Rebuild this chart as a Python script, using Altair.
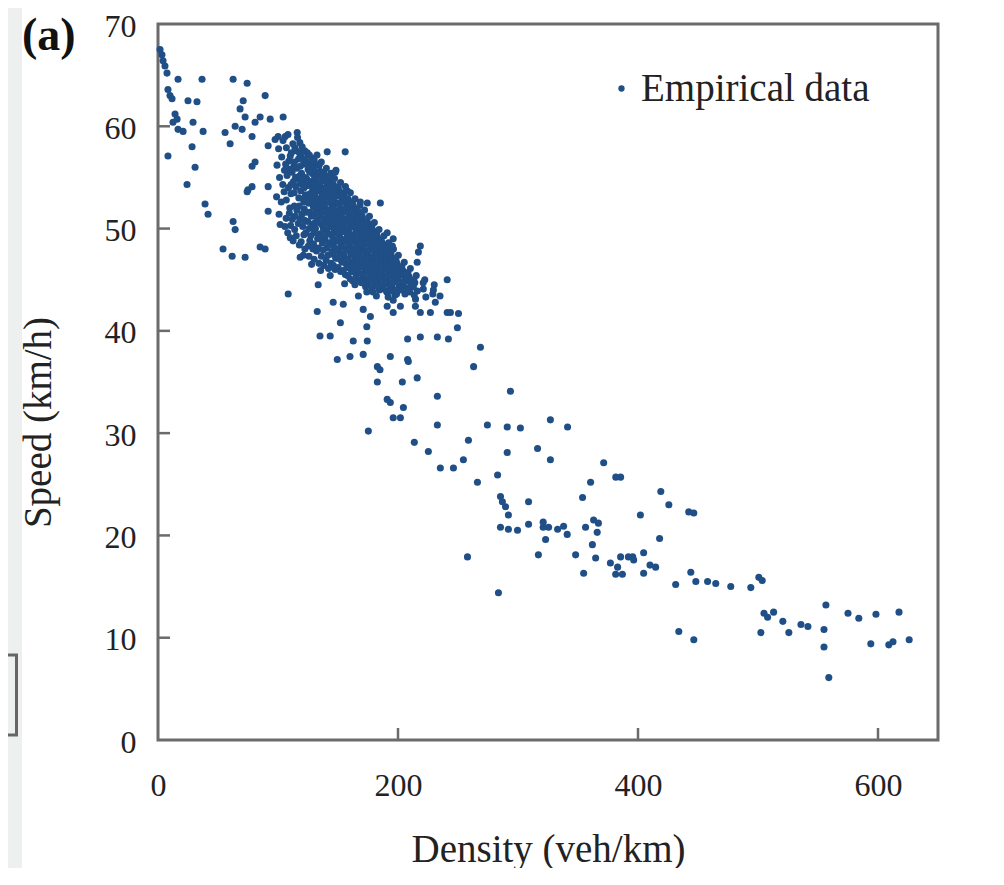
import altair as alt
import pandas as pd

# ---------------- data (density veh/km, speed km/h) ----------------
free_flow_pts = [
    (1.7, 67.5), (3.3, 67.0), (4.2, 66.4), (5.8, 65.9), (7.5, 65.2),
    (16.7, 64.6), (36.7, 64.6), (62.6, 64.6), (74.3, 64.2), (89.3, 63.0),
    (8.3, 63.6), (10.0, 63.0), (11.7, 62.7), (25.0, 62.5), (32.5, 62.4),
    (71.0, 62.5), (68.4, 61.7), (72.6, 60.9), (14.2, 61.2), (15.9, 60.7), (12.5, 60.4),
    (29.2, 60.4), (16.7, 59.7), (20.9, 59.5), (37.6, 59.5), (55.9, 59.4), (60.1, 58.3),
    (64.3, 60.0), (70.1, 59.7), (78.4, 59.0), (80.9, 60.4), (85.1, 60.9), (93.5, 60.7),
    (104.3, 60.9), (100.1, 59.0), (106.0, 59.0), (97.6, 58.7), (116.0, 59.4), (91.8, 58.1),
    (28.4, 58.0), (8.3, 57.1), (30.9, 56.0), (78.4, 56.1), (80.9, 56.5), (24.2, 54.3),
    (75.0, 53.8), (74.3, 53.6), (78.4, 54.1), (91.8, 54.1), (39.2, 52.4), (41.7, 51.4),
    (91.8, 51.7), (62.6, 50.7), (64.3, 49.9), (54.2, 48.0), (61.8, 47.3), (72.6, 47.2),
    (85.1, 48.2), (89.3, 48.0), (110.2, 49.1), (101.8, 50.4), (118.5, 47.2),
]

core_pts = [
    (100.5, 57.8), (99.2, 56.2), (101.3, 55.0), (98.8, 53.1), (100.9, 51.4),
    (104.2, 58.6), (103.1, 57.0), (105.4, 55.7), (104.0, 54.3), (102.7, 52.6), (105.8, 50.2),
    (108.3, 59.2), (107.0, 57.9), (109.1, 56.6), (107.6, 55.2), (108.8, 54.0), (106.9, 52.8), (109.5, 51.5), (108.1, 49.6),
    (112.4, 58.3), (111.1, 57.4), (113.2, 56.1), (111.7, 55.5), (112.9, 54.6), (110.8, 53.4), (113.6, 52.2), (111.9, 50.9), (112.6, 48.8),
    (116.3, 58.9), (115.0, 57.6), (117.1, 56.8), (115.6, 55.9), (116.8, 54.9), (114.9, 54.1), (117.4, 53.0), (115.8, 51.8), (116.9, 50.5), (115.2, 49.3),
    (120.1, 58.0), (119.0, 57.1), (121.3, 56.3), (119.6, 55.4), (120.8, 54.5), (118.9, 53.7), (121.5, 52.6), (119.9, 51.4), (120.6, 50.2), (119.3, 48.7), (121.1, 47.4),
    (124.4, 57.4), (123.2, 56.6), (125.1, 55.8), (123.8, 54.9), (124.9, 54.2), (122.9, 53.3), (125.6, 52.5), (123.5, 51.6), (124.7, 50.7), (123.1, 49.6), (125.3, 48.3),
    (128.2, 56.9), (127.1, 56.0), (129.3, 55.3), (127.7, 54.6), (128.9, 53.8), (126.8, 53.0), (129.5, 52.1), (127.9, 51.2), (128.6, 50.3), (127.3, 49.3), (129.1, 48.0), (128.0, 46.5),
    (132.5, 57.2), (131.0, 56.3), (133.2, 55.5), (131.6, 54.7), (132.8, 54.0), (130.9, 53.2), (133.6, 52.4), (131.8, 51.7), (132.3, 50.8), (131.2, 50.0), (133.0, 49.0), (132.1, 47.8),
    (136.1, 56.5), (135.0, 55.6), (137.2, 54.8), (135.6, 54.1), (136.8, 53.4), (134.9, 52.7), (137.5, 51.9), (135.8, 51.2), (136.4, 50.4), (135.2, 49.5), (137.0, 48.6), (136.2, 47.3), (135.5, 45.9),
    (140.3, 55.9), (139.1, 55.0), (141.2, 54.3), (139.7, 53.5), (140.9, 52.8), (138.8, 52.1), (141.6, 51.4), (139.9, 50.6), (140.5, 49.8), (139.2, 49.0), (141.0, 48.1), (140.1, 46.9),
    (144.2, 55.4), (143.0, 54.6), (145.1, 53.8), (143.6, 53.1), (144.8, 52.3), (142.9, 51.6), (145.5, 50.9), (143.8, 50.2), (144.5, 49.4), (143.2, 48.6), (145.0, 47.7), (144.1, 46.6), (143.5, 45.4),
    (148.3, 55.7), (147.1, 54.9), (149.2, 54.0), (147.7, 53.3), (148.9, 52.5), (146.8, 51.8), (149.6, 51.0), (147.9, 50.3), (148.5, 49.6), (147.2, 48.8), (149.0, 48.0), (148.1, 47.1), (147.6, 46.0),
    (152.1, 54.5), (151.0, 53.6), (153.3, 52.8), (151.6, 52.0), (152.8, 51.3), (150.9, 50.5), (153.5, 49.8), (151.8, 49.1), (152.4, 48.4), (151.2, 47.6), (153.0, 46.8), (152.2, 45.8),
    (156.2, 54.1), (155.0, 53.2), (157.1, 52.4), (155.6, 51.7), (156.8, 50.9), (154.9, 50.2), (157.5, 49.5), (155.8, 48.8), (156.4, 48.0), (155.2, 47.3), (157.0, 46.5), (156.1, 45.5), (155.5, 44.6),
    (160.3, 53.5), (159.1, 52.7), (161.2, 51.9), (159.7, 51.1), (160.9, 50.4), (158.8, 49.7), (161.6, 49.0), (159.9, 48.3), (160.5, 47.6), (159.2, 46.8), (161.0, 46.0), (160.1, 45.1),
    (164.2, 52.9), (163.0, 52.1), (165.1, 51.4), (163.6, 50.6), (164.8, 49.9), (162.9, 49.2), (165.5, 48.5), (163.8, 47.8), (164.5, 47.1), (163.2, 46.3), (165.0, 45.5), (164.1, 44.5),
    (168.3, 52.3), (167.1, 51.5), (169.2, 50.8), (167.7, 50.0), (168.9, 49.3), (166.8, 48.6), (169.6, 47.9), (167.9, 47.2), (168.5, 46.5), (167.2, 45.7), (169.0, 44.8),
    (172.1, 51.8), (171.0, 50.9), (173.3, 50.2), (171.6, 49.5), (172.8, 48.8), (170.9, 48.1), (173.5, 47.4), (171.8, 46.7), (172.4, 46.0), (171.2, 45.2), (173.0, 44.3),
    (176.2, 51.2), (175.0, 50.4), (177.1, 49.6), (175.6, 48.9), (176.8, 48.2), (174.9, 47.5), (177.5, 46.8), (175.8, 46.1), (176.4, 45.4), (175.2, 44.6),
    (180.3, 50.6), (179.1, 49.8), (181.2, 49.0), (179.7, 48.3), (180.9, 47.6), (178.8, 46.9), (181.6, 46.2), (179.9, 45.5), (180.5, 44.7), (179.2, 43.8),
    (184.2, 49.9), (183.0, 49.1), (185.1, 48.4), (183.6, 47.7), (184.8, 47.0), (182.9, 46.3), (185.5, 45.6), (183.8, 44.8), (184.5, 44.0),
    (188.3, 49.3), (187.1, 48.5), (189.2, 47.8), (187.7, 47.1), (188.9, 46.4), (186.8, 45.7), (189.6, 44.9), (187.9, 44.1),
    (192.1, 48.6), (191.0, 47.9), (193.3, 47.2), (191.6, 46.5), (192.8, 45.8), (190.9, 45.0), (193.5, 44.2), (191.8, 43.3),
    (196.2, 48.0), (195.0, 47.2), (197.1, 46.5), (195.6, 45.8), (196.8, 45.1), (194.9, 44.3), (197.5, 43.5),
    (200.3, 47.4), (199.1, 46.6), (201.2, 45.9), (199.7, 45.1), (200.9, 44.4), (198.8, 43.6),
    (205.2, 46.7), (204.0, 45.9), (206.1, 45.2), (204.6, 44.4), (205.8, 43.6),
    (210.3, 46.1), (209.1, 45.3), (211.2, 44.6), (209.7, 43.8),
    (215.2, 45.4), (214.0, 44.7), (216.1, 43.9), (214.6, 43.1),
    (222.3, 45.0), (221.1, 44.1), (223.2, 43.3),
    (230.2, 44.5), (229.0, 43.6), (231.1, 42.8),
]

core_fill_pts = [
    (106.4, 56.3), (105.1, 53.6), (106.8, 51.0),
    (110.2, 57.1), (109.6, 55.8), (110.9, 54.3), (109.8, 52.0), (110.5, 50.3),
    (114.1, 57.9), (113.7, 56.5), (114.6, 55.0), (113.4, 53.5), (114.3, 51.2), (113.9, 49.9),
    (118.2, 58.4), (117.9, 57.4), (118.5, 56.1), (117.6, 55.1), (118.8, 54.4), (117.7, 52.2), (118.4, 50.9), (117.8, 48.4),
    (122.3, 57.6), (121.8, 56.8), (122.5, 55.0), (121.7, 54.0), (122.6, 53.0), (121.9, 51.9), (122.2, 50.8), (121.6, 49.4), (122.4, 48.0),
    (126.1, 57.2), (125.8, 56.3), (126.4, 55.5), (125.9, 54.3), (126.6, 53.4), (125.7, 52.5), (126.3, 51.6), (125.9, 50.0), (126.5, 48.8), (125.8, 47.3),
    (130.2, 56.7), (129.8, 55.9), (130.5, 54.9), (129.7, 54.2), (130.4, 53.5), (129.9, 52.7), (130.6, 51.4), (129.8, 50.5), (130.3, 49.6), (129.6, 48.5), (130.1, 47.0),
    (134.3, 56.2), (133.8, 55.2), (134.5, 54.4), (133.7, 53.7), (134.4, 52.9), (133.9, 52.1), (134.6, 51.5), (133.8, 50.6), (134.2, 49.1), (133.6, 48.1), (134.1, 46.6),
    (138.2, 55.5), (137.8, 54.7), (138.5, 53.9), (137.7, 53.0), (138.4, 52.4), (137.9, 51.6), (138.6, 50.9), (137.8, 50.0), (138.3, 49.3), (137.6, 47.9), (138.1, 46.4),
    (142.3, 55.1), (141.8, 54.0), (142.5, 53.3), (141.7, 52.6), (142.4, 51.8), (141.9, 51.0), (142.6, 50.4), (141.8, 49.5), (142.2, 48.5), (141.6, 47.4), (142.1, 46.1),
    (146.2, 54.3), (145.8, 53.5), (146.5, 52.9), (145.7, 52.1), (146.4, 51.3), (145.9, 50.6), (146.6, 49.9), (145.8, 49.0), (146.3, 48.3), (145.6, 47.5), (146.1, 46.4),
    (150.3, 54.0), (149.8, 53.2), (150.5, 52.4), (149.7, 51.6), (150.4, 50.9), (149.9, 50.0), (150.6, 49.4), (149.8, 48.8), (150.2, 47.9), (149.6, 47.1), (150.1, 46.2),
    (154.2, 53.5), (153.8, 52.6), (154.5, 51.9), (153.7, 51.0), (154.4, 50.6), (153.9, 49.7), (154.6, 48.9), (153.8, 48.2), (154.3, 47.5), (153.6, 46.7), (154.1, 45.9),
    (158.3, 52.9), (157.8, 52.0), (158.5, 51.5), (157.7, 50.7), (158.4, 50.0), (157.9, 49.2), (158.6, 48.6), (157.8, 47.9), (158.2, 47.0), (157.6, 46.2), (158.1, 45.4),
    (162.2, 52.4), (161.8, 51.6), (162.5, 50.9), (161.7, 50.2), (162.4, 49.4), (161.9, 48.8), (162.6, 48.0), (161.8, 47.4), (162.3, 46.6), (161.6, 45.8), (162.1, 44.9),
    (166.3, 51.8), (165.8, 51.0), (166.5, 50.3), (165.7, 49.6), (166.4, 48.9), (165.9, 48.2), (166.6, 47.5), (165.8, 46.8), (166.2, 46.0), (165.6, 45.1),
    (170.2, 51.2), (169.8, 50.5), (170.5, 49.8), (169.7, 49.0), (170.4, 48.4), (169.9, 47.7), (170.6, 47.0), (169.8, 46.3), (170.3, 45.5), (169.6, 44.7),
    (174.3, 50.7), (173.8, 49.9), (174.5, 49.2), (173.7, 48.5), (174.4, 47.8), (173.9, 47.1), (174.6, 46.4), (173.8, 45.8), (174.2, 45.0),
    (178.2, 50.0), (177.8, 49.3), (178.5, 48.6), (177.7, 47.9), (178.4, 47.2), (177.9, 46.5), (178.6, 45.9), (177.8, 45.1), (178.3, 44.2),
    (182.3, 49.4), (181.8, 48.7), (182.5, 48.0), (181.7, 47.3), (182.4, 46.6), (181.9, 45.9), (182.6, 45.2), (181.8, 44.4),
    (186.2, 48.8), (185.8, 48.1), (186.5, 47.4), (185.7, 46.7), (186.4, 46.0), (185.9, 45.3), (186.6, 44.5),
    (190.3, 48.2), (189.8, 47.5), (190.5, 46.8), (189.7, 46.1), (190.4, 45.4), (189.9, 44.6), (190.6, 43.8),
    (194.2, 47.6), (193.8, 46.9), (194.5, 46.2), (193.7, 45.4), (194.4, 44.7), (193.9, 43.9),
    (198.3, 46.9), (197.8, 46.2), (198.5, 45.5), (197.7, 44.8), (198.4, 44.0),
    (203.2, 46.3), (202.8, 45.5), (203.5, 44.8), (202.7, 44.0),
    (208.3, 45.7), (207.8, 44.9), (208.5, 44.2),
    (213.2, 45.0), (212.8, 44.3), (213.5, 43.5),
]

transition_pts = [
    (141.0, 57.5), (156.0, 57.5), (147.7, 55.5), (157.7, 53.7), (168.6, 52.6), (174.4, 52.5),
    (185.3, 52.5), (178.6, 50.4), (191.0, 49.6), (196.0, 49.0), (195.3, 48.3), (218.6, 48.3),
    (217.0, 47.7), (216.0, 46.7), (241.0, 45.0), (221.0, 44.7), (229.5, 44.0), (235.0, 43.4),
    (208.0, 44.0), (196.0, 43.0), (191.0, 42.4), (196.0, 41.8), (202.0, 42.4), (214.5, 42.4),
    (218.6, 41.8), (227.0, 41.8), (241.0, 41.8), (185.0, 45.3), (182.0, 43.4), (174.0, 43.8),
    (167.0, 43.4), (171.0, 42.1), (177.0, 41.4), (152.0, 40.8), (174.0, 40.4), (108.5, 43.6),
    (132.7, 41.9), (146.0, 42.8), (154.4, 42.6), (133.5, 44.5), (135.0, 39.5), (143.5, 39.5),
    (162.7, 39.0), (174.4, 39.0), (208.0, 39.2), (218.6, 39.4), (232.8, 39.4), (242.0, 39.2),
    (149.4, 37.2), (160.0, 37.5), (171.0, 37.7), (193.6, 37.5), (208.0, 37.2), (182.8, 36.5),
    (243.7, 41.8), (250.4, 41.7), (249.5, 40.3), (268.7, 38.4), (208.6, 37.0), (263.0, 36.5),
    (185.0, 36.2), (203.6, 35.0), (216.0, 35.4), (293.7, 34.1), (191.0, 33.3), (193.6, 33.0),
    (232.8, 33.6), (204.5, 32.5), (196.0, 31.5), (202.0, 31.5), (232.8, 30.8), (274.5, 30.8),
    (291.0, 30.6), (302.0, 30.5), (327.0, 31.3), (341.3, 30.6), (182.8, 35.0), (175.3, 30.2),
    (213.6, 29.1), (225.3, 28.2), (258.7, 29.3), (316.3, 28.5), (327.0, 27.4), (291.0, 28.1),
    (235.3, 26.6), (246.2, 26.6), (254.5, 27.4), (283.0, 25.9), (266.2, 25.2),
]

congested_pts = [
    (371.4, 27.1), (385.5, 25.7), (381.5, 25.7), (360.5, 25.2), (353.8, 23.7), (285.4, 23.8),
    (287.0, 23.3), (289.6, 22.8), (308.8, 23.3), (292.0, 22.0), (285.4, 20.8), (292.0, 20.6),
    (299.6, 20.5), (308.8, 21.1), (321.0, 21.3), (321.0, 20.8), (325.5, 20.8), (333.0, 20.6),
    (338.0, 20.9), (341.0, 20.1), (323.0, 19.6), (356.3, 20.8), (363.0, 21.5), (367.0, 21.2),
    (366.0, 20.3), (362.0, 19.1), (402.0, 22.0), (257.9, 17.9), (317.0, 18.1), (348.0, 18.1),
    (354.7, 16.3), (364.7, 17.8), (377.0, 17.3), (383.0, 16.9), (385.5, 17.9), (381.4, 16.2),
    (387.0, 16.2), (392.0, 17.9), (396.4, 17.6), (404.7, 18.3), (404.7, 16.3), (410.0, 17.1),
    (414.7, 16.9), (395.6, 17.9), (283.7, 14.4), (419.0, 24.3), (425.7, 23.0), (442.3, 22.3),
    (446.5, 22.2), (418.0, 19.7), (431.4, 15.2), (444.0, 16.4), (448.2, 15.5), (458.0, 15.5),
    (464.8, 15.3), (477.3, 15.0), (494.0, 14.9), (500.7, 15.9), (503.5, 15.6), (434.0, 10.6),
    (446.5, 9.8), (505.0, 12.4), (508.0, 12.0), (513.0, 12.5), (520.7, 11.6), (535.8, 11.3),
    (541.6, 11.1), (502.4, 10.5), (525.7, 10.5), (556.6, 13.2), (555.0, 10.8), (555.0, 9.1),
    (559.0, 6.1), (575.0, 12.4), (584.0, 11.9), (598.3, 12.3), (617.5, 12.5), (594.0, 9.4),
    (609.0, 9.3), (612.5, 9.6), (626.0, 9.8),
]

x_ticks = [0, 200, 400, 600]
y_ticks = [0, 10, 20, 30, 40, 50, 60, 70]
x_title = "Density (veh/km)"
y_title = "Speed (km/h)"
series_name = "Empirical data"
panel_label = "(a)"

# ---------------- build table ----------------
all_pts = free_flow_pts + core_pts + core_fill_pts + transition_pts + congested_pts
df = pd.DataFrame(all_pts, columns=["density", "speed"])
df["series"] = series_name

W, H = 780, 716
FONT = "Liberation Serif"
DOT = "#1f4f86"
FRAME = "#6b6b6b"

xscale = alt.Scale(domain=[0, 650], nice=False, zero=True)
yscale = alt.Scale(domain=[0, 70], nice=False)

points = alt.Chart(df).mark_circle(size=50, opacity=1).encode(
    x=alt.X("density:Q", scale=xscale,
            axis=alt.Axis(values=x_ticks, title=x_title, titleY=121,
                          titleBaseline="alphabetic", labelPadding=30, labelFlush=False)),
    y=alt.Y("speed:Q", scale=yscale,
            axis=alt.Axis(values=y_ticks, title=y_title, titleX=-108, titleY=398,
                          titleAngle=270, titleAlign="center",
                          titleBaseline="alphabetic", labelPadding=22, labelFlush=False,
                          labelOffset=2)),
    color=alt.Color("series:N", scale=alt.Scale(range=[DOT]),
                    legend=alt.Legend(orient="none", legendX=444, legendY=45, title=None,
                                      symbolType="circle", symbolSize=40,
                                      symbolFillColor=DOT, symbolStrokeWidth=0,
                                      labelFont=FONT, labelFontSize=39, labelColor="#222222",
                                      labelOffset=0, labelLimit=0, padding=0)),
)

# inward tick marks
ytick_df = pd.DataFrame({"v": y_ticks[1:-1]})
xtick_df = pd.DataFrame({"v": x_ticks[1:]})
yticks = alt.Chart(ytick_df).mark_rule(color=FRAME, strokeWidth=2.5).encode(
    y=alt.Y("v:Q", scale=yscale), x=alt.value(0), x2=alt.value(12))
xticks = alt.Chart(xtick_df).mark_rule(color=FRAME, strokeWidth=2.5).encode(
    x=alt.X("v:Q", scale=xscale), y=alt.value(H), y2=alt.value(H - 12))

# panel label
label = alt.Chart(pd.DataFrame({"t": [panel_label]})).mark_text(
    font=FONT, fontSize=46, fontWeight="bold", align="left", baseline="alphabetic",
    color="#111111").encode(x=alt.value(-136), y=alt.value(26), text="t:N")

# page decoration: grey strip on the left and bracket
deco = pd.DataFrame({"k": [0]})
strip = alt.Chart(deco).mark_rect(color="#eef0f0").encode(
    x=alt.value(-150), x2=alt.value(-136), y=alt.value(-16), y2=alt.value(H + 140))
br_top = alt.Chart(deco).mark_rule(color="#666666", strokeWidth=3).encode(
    x=alt.value(-152), x2=alt.value(-140), y=alt.value(631))
br_bot = alt.Chart(deco).mark_rule(color="#666666", strokeWidth=3).encode(
    x=alt.value(-152), x2=alt.value(-140), y=alt.value(711))
br_side = alt.Chart(deco).mark_rule(color="#666666", strokeWidth=3).encode(
    x=alt.value(-141.5), y=alt.value(631), y2=alt.value(711))

chart = alt.layer(strip, br_top, br_bot, br_side, label, yticks, xticks, points).properties(
    width=W, height=H,
    autosize=alt.AutoSizeParams(type="none"),
    padding={"left": 150, "top": 16, "right": 50, "bottom": 128},
    background="white",
).configure_view(
    stroke=FRAME, strokeWidth=3
).configure_axis(
    domain=False, ticks=False, grid=False,
    labelFont=FONT, labelFontSize=32, labelColor="#222222",
    titleFont=FONT, titleFontSize=39, titleFontWeight="normal", titleColor="#222222",
)

chart.save("out.html", embed_options={"renderer": "svg", "actions": False})
